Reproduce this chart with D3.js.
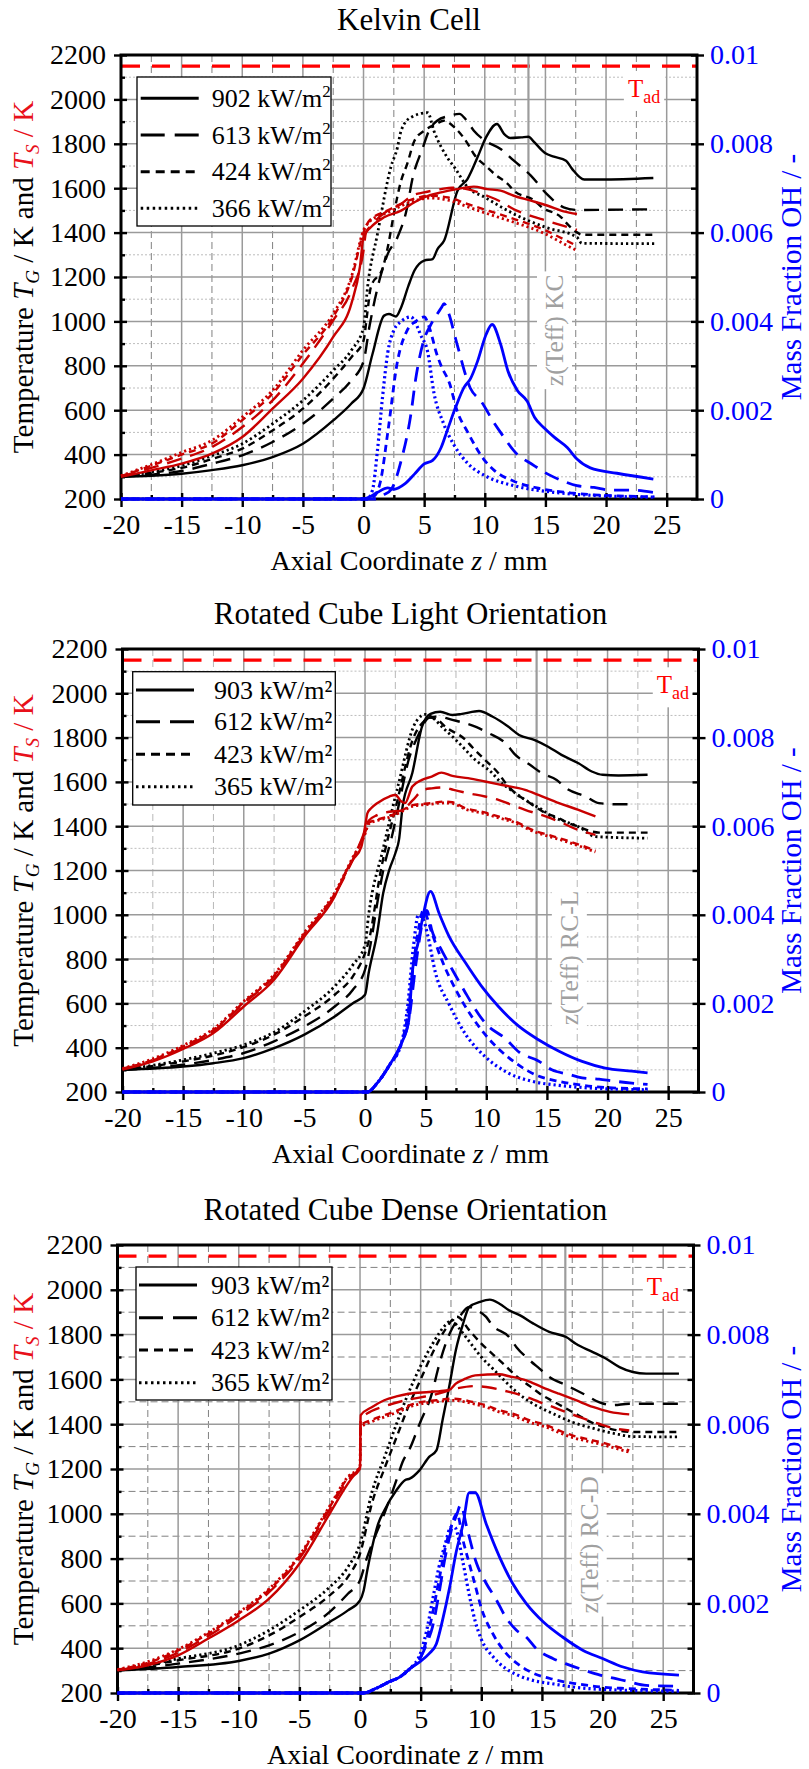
<!DOCTYPE html>
<html>
<head>
<meta charset="utf-8">
<script src="https://cdn.jsdelivr.net/npm/d3@7"></script>
<style>
  html, body { margin: 0; padding: 0; background: #fff; }
  svg { display: block; }
  svg text { font-family: "Liberation Serif", "Times New Roman", serif; }
</style>
</head>
<body>
<div id="chart"></div>
<script>
// ---- Data ----
// z in mm, T in K, OH as mass fraction

// Kelvin Cell
const kcFlux = ["902", "613", "424", "366"];
const kcTg902 = [[-20,300],[-17.5,305],[-15,314],[-12.5,330],[-10,352],[-7.5,389],[-5,449],[-2.5,554],[-1,630],[0,698],[0.74,853],[1.7,1026],[2.1,1033],[2.67,1022],[3.1,1063],[3.7,1160],[4.2,1229],[5,1274],[5.7,1281],[6.1,1326],[6.65,1364],[7.75,1589],[8.57,1641],[9.4,1739],[10.1,1829],[11,1889],[11.6,1844],[12.1,1826],[13,1829],[13.6,1832],[14.1,1806],[15,1757],[15.7,1742],[16.7,1724],[17.2,1687],[18.2,1639],[19.6,1639],[23.9,1646]];
const kcTg613 = [[-20,300],[-17.5,310],[-15,326],[-12.5,359],[-10,397],[-7.5,457],[-5,539],[-2.5,652],[-1,735],[0,820],[0.5,980],[1.3,1183],[2,1304],[2.8,1379],[3.6,1514],[4,1634],[4.9,1784],[5.4,1859],[6.1,1905],[7,1925],[7.9,1935],[8.5,1905],[9.1,1859],[10,1815],[11.3,1777],[12.4,1724],[13.8,1657],[15.1,1574],[16.5,1514],[17.6,1502],[24,1505]];
const kcTg424 = [[-20,300],[-17.5,318],[-15,340],[-12.5,380],[-10,427],[-7.5,509],[-5,607],[-2.5,742],[-1,839],[0,913],[0.3,1033],[0.6,1153],[1.6,1243],[2,1334],[2.5,1484],[3.1,1634],[3.6,1709],[4.2,1814],[5,1859],[6,1889],[6.6,1904],[7.5,1874],[8.6,1800],[9.1,1754],[10.2,1694],[10.8,1664],[11.9,1619],[12.4,1589],[14.1,1544],[14.7,1514],[16.3,1469],[16.8,1439],[17.6,1401],[18,1390],[24,1390]];
const kcTg366 = [[-20,300],[-17.5,322],[-15,350],[-12.5,395],[-10,449],[-7.5,539],[-5,644],[-2.5,779],[-1,870],[0,973],[0.33,1153],[1.15,1394],[2.25,1694],[2.8,1784],[3.1,1859],[3.9,1919],[5.3,1940],[5.8,1859],[6.9,1739],[7.5,1694],[8.6,1604],[10,1559],[12.4,1484],[15,1424],[17.6,1379],[18,1352],[24,1350]];
const kcTs902 = [[-20,300],[-17.5,329],[-15,359],[-12.5,404],[-10,479],[-7.5,607],[-5,742],[-2.5,930],[-1,1080],[-0.3,1245],[0,1380],[0.6,1424],[1.7,1469],[3.1,1499],[4.2,1537],[5,1559],[6.4,1581],[7.7,1596],[9.1,1607],[10.2,1596],[11.3,1589],[12.4,1566],[13.8,1544],[15.2,1521],[16.5,1496],[17.6,1484]];
const kcTs613 = [[-20,302],[-17.5,340],[-15,382],[-12.5,434],[-10,524],[-7.5,644],[-5,810],[-2.5,1005],[-1,1140],[0,1320],[0.2,1400],[0.6,1430],[2,1499],[3.1,1529],[4,1566],[5,1581],[6.4,1596],[7.3,1602],[8.3,1598],[10.2,1566],[11.3,1540],[12.4,1505],[13.8,1475],[15,1455],[16.5,1430],[17.6,1412]];
const kcTs424 = [[-20,303],[-17.5,350],[-15,400],[-12.5,450],[-10,555],[-7.5,675],[-5,850],[-2.5,1020],[-1,1190],[0,1400],[0.5,1455],[2,1500],[4,1550],[5.5,1566],[7,1558],[8.5,1530],[10.5,1495],[12.5,1460],[15,1410],[16.5,1370],[17.6,1340]];
const kcTs366 = [[-20,305],[-17.5,355],[-15,410],[-12.5,464],[-10,569],[-7.5,689],[-5,870],[-2.5,1035],[-1,1200],[0,1410],[0.5,1450],[2,1490],[4,1540],[5.5,1556],[7,1546],[8.5,1518],[10.5,1480],[12.5,1445],[15,1394],[16.5,1350],[17.6,1319]];
const kcOh902 = [[-20,0],[0,0],[0.5,0.00005],[1.15,0.00015],[2,0.00025],[2.5,0.00022],[3.4,0.00034],[4.2,0.00056],[5,0.00079],[5.7,0.00087],[6.4,0.00116],[6.9,0.00154],[7.6,0.00207],[8.3,0.00252],[8.8,0.0027],[9.4,0.0031],[10.1,0.0037],[10.6,0.00393],[11.3,0.00349],[11.9,0.00289],[12.7,0.00244],[13.5,0.0022],[14.1,0.00184],[14.9,0.0016],[15.7,0.0014],[16.8,0.00116],[17.6,0.0009],[18.7,0.0007],[20.9,0.00058],[23.9,0.00045]];
const kcOh613 = [[-20,0],[1,0],[1.7,0.0001],[2.3,0.00022],[3.1,0.00086],[3.9,0.0019],[4.3,0.0027],[5,0.0036],[5.5,0.0039],[6.4,0.0043],[6.65,0.0044],[7,0.0042],[7.7,0.0035],[8.8,0.0025],[9.7,0.0022],[10.8,0.0017],[11.3,0.0015],[12.7,0.001],[13.8,0.0008],[15.2,0.00056],[16.5,0.0004],[17.6,0.0003],[19,0.00026],[20.4,0.0002],[22,0.0002],[23.9,0.00015]];
const kcOh424 = [[-20,0],[0.4,0],[1,0.0001],[1.4,0.0004],[2,0.0015],[2.8,0.0031],[3.6,0.0038],[4.3,0.004],[5,0.0041],[5.5,0.0038],[6,0.0033],[6.4,0.003],[7.1,0.0026],[7.7,0.002],[8.6,0.0015],[9.9,0.0009],[10.8,0.00064],[12.4,0.0004],[14.3,0.00025],[17.3,0.00013],[21,0.00007],[24,0.00005]];
const kcOh366 = [[-20,0],[0.3,0],[0.74,0.0002],[1.15,0.0011],[1.57,0.0023],[2,0.0033],[2.5,0.0038],[3.1,0.004],[3.9,0.0041],[4.4,0.0039],[4.7,0.0037],[5.3,0.0033],[5.8,0.0024],[6.6,0.0017],[7.5,0.0012],[8.6,0.0008],[10.2,0.0005],[12.4,0.0003],[15.7,0.00015],[19,0.00008],[23.9,0.00004]];

// Rotated Cube Light Orientation
const rlFlux = ["903", "612", "423", "365"];
const rlTg903 = [[-20,300],[-15,315],[-12.5,330],[-10,353],[-7.5,398],[-5,459],[-2.5,541],[-1,601],[0,639],[0.3,737],[1,917],[1.5,1098],[2,1203],[2.5,1278],[2.8,1338],[3.1,1489],[3.9,1640],[4.7,1850],[5.4,1907],[6.2,1917],[7.2,1902],[8,1907],[9.4,1920],[10.5,1895],[11.8,1850],[12.7,1812],[14,1789],[15.1,1759],[16.2,1722],[17.6,1684],[18.7,1647],[19.6,1632],[20.9,1629],[23.3,1632]];
const rlTg612 = [[-20,300],[-15,323],[-12.5,345],[-10,376],[-7.5,429],[-5,496],[-2.5,586],[-1,662],[0,752],[0.5,880],[1,1050],[1.5,1200],[2.2,1350],[2.8,1500],[3.6,1700],[4.3,1800],[5.3,1890],[6,1895],[7.2,1880],[9.2,1847],[10.2,1820],[11.6,1774],[12.4,1722],[13.6,1677],[14.6,1639],[15.8,1609],[16.6,1571],[18.2,1534],[19.3,1504],[20.8,1499],[22,1499]];
const rlTg423 = [[-20,300],[-15,338],[-12.5,365],[-10,403],[-7.5,459],[-5,541],[-2.5,639],[-1,722],[0,827],[0.3,880],[1.3,1200],[2.6,1500],[4,1800],[5,1880],[5.3,1890],[6,1880],[6.6,1850],[8.3,1789],[8.8,1759],[9.9,1699],[11,1639],[11.6,1594],[12.4,1549],[13.2,1519],[14,1489],[14.9,1459],[16,1436],[16.5,1421],[17.6,1398],[18.7,1376],[19.3,1371],[23.3,1371]];
const rlTg365 = [[-20,300],[-15,345],[-12.5,375],[-10,413],[-7.5,470],[-5,564],[-2.5,677],[-1,774],[0,865],[0.3,1000],[1.5,1300],[2.8,1600],[4,1850],[4.7,1900],[5,1905],[6.6,1835],[8.3,1744],[8.8,1714],[10.5,1639],[11,1609],[12.4,1549],[13.2,1519],[14.6,1474],[15.4,1444],[16.5,1421],[17.6,1398],[19,1353],[23.3,1346]];
const rlTs903 = [[-20,301],[-17.5,338],[-15,394],[-12.5,466],[-10,586],[-7.5,707],[-5,902],[-2.5,1083],[-1.5,1203],[-1,1248],[-0.3,1308],[0,1398],[0.2,1459],[0.5,1481],[1,1504],[2,1534],[2.5,1541],[3,1511],[3.3,1504],[3.9,1579],[4.7,1609],[5.5,1624],[6.3,1642],[7.2,1627],[8.5,1617],[9.9,1602],[11.3,1586],[13.2,1564],[14.3,1541],[16,1504],[17.6,1474],[19,1444]];
const rlTs612 = [[-20,303],[-17.5,342],[-15,400],[-12.5,475],[-10,600],[-7.5,720],[-5,910],[-2.5,1090],[-1,1250],[0,1380],[0.3,1425],[1,1450],[2,1465],[3,1470],[3.9,1515],[4.8,1564],[5.5,1571],[6.5,1575],[7.3,1564],[8.5,1549],[9.9,1534],[11,1519],[12.1,1496],[13.2,1474],[14.9,1444],[16,1421],[17.6,1383],[19,1361]];
const rlTs423 = [[-20,305],[-17.5,345],[-15,405],[-12.5,480],[-10,605],[-7.5,725],[-5,915],[-2.5,1095],[-1,1255],[0,1370],[0.3,1415],[1,1430],[2,1445],[3,1470],[3.9,1495],[5.5,1504],[6.5,1511],[7.2,1508],[8.3,1481],[9.6,1466],[11,1444],[12.4,1421],[13.8,1383],[15.1,1361],[16.5,1338],[19,1290]];
const rlTs365 = [[-20,306],[-17.5,350],[-15,410],[-12.5,485],[-10,610],[-7.5,730],[-5,920],[-2.5,1100],[-1,1260],[0,1365],[0.3,1410],[1,1425],[2,1440],[3,1465],[3.9,1490],[5.5,1500],[6.5,1505],[7.2,1503],[8.3,1476],[9.6,1460],[11,1438],[12.4,1415],[13.8,1378],[15.1,1355],[16.5,1332],[19,1284]];
const rlOh903 = [[-20,0],[0.2,0],[1,0.0002],[2,0.0006],[3,0.0011],[3.6,0.0016],[3.9,0.0027],[4.4,0.0034],[4.8,0.004],[5.4,0.00453],[6.1,0.00404],[6.9,0.00353],[8.3,0.00291],[9.6,0.00239],[11,0.00193],[12.7,0.00148],[14.3,0.00118],[16,0.00092],[17.9,0.00069],[19.8,0.00054],[22,0.00047],[23.3,0.00043]];
const rlOh612 = [[-20,0],[0.2,0],[1,0.0002],[2,0.0006],[3,0.0011],[3.6,0.0016],[4.2,0.0029],[4.8,0.0039],[5.1,0.0041],[5.5,0.00366],[6.3,0.00321],[7.2,0.00276],[8.3,0.00223],[8.8,0.002],[9.9,0.00156],[11.6,0.0012],[12.7,0.0009],[14.3,0.0007],[15.4,0.0005],[16.8,0.0004],[17.9,0.00032],[19.3,0.00029],[20.4,0.00025],[22,0.0002],[23.3,0.00017]];
const rlOh423 = [[-20,0],[0.2,0],[1,0.0002],[2,0.0006],[3,0.0011],[3.5,0.0017],[4,0.0029],[4.5,0.0038],[4.8,0.0041],[5.5,0.0036],[6.3,0.003],[7.7,0.0022],[9.9,0.0013],[12.4,0.00066],[14.3,0.00036],[16,0.00024],[18,0.00015],[20,0.0001],[23.3,0.00007]];
const rlOh365 = [[-20,0],[0.2,0],[1,0.0002],[2,0.0006],[3,0.0011],[3.5,0.0019],[4,0.0033],[4.4,0.004],[4.8,0.0039],[5.2,0.0035],[5.8,0.0027],[6.9,0.002],[8.3,0.0013],[9.9,0.0008],[11.8,0.00043],[13.8,0.00024],[16,0.00015],[18,0.0001],[20,0.00007],[23.3,0.00005]];

// Rotated Cube Dense Orientation
const rdFlux = ["903", "612", "423", "365"];
const rdTg903 = [[-20,301],[-15,316],[-10,343],[-7.5,376],[-5,435],[-2.5,517],[-1,569],[0,614],[0.3,658],[0.6,748],[1,852],[1.5,956],[2,1015],[3,1105],[3.7,1150],[4.1,1157],[4.9,1194],[5.7,1254],[6.3,1283],[6.8,1417],[7.4,1581],[7.9,1730],[8.5,1849],[9,1923],[9.9,1946],[10.7,1956],[11.5,1938],[12.3,1908],[13.2,1886],[14.3,1849],[15.6,1812],[17,1789],[17.8,1759],[19.2,1722],[20.3,1692],[21.4,1655],[22.5,1633],[23.6,1626],[26.3,1626]];
const rdTg612 = [[-20,300],[-15,331],[-10,376],[-7.5,413],[-5,472],[-2.5,562],[-1,643],[0,703],[0.5,792],[1,867],[2,1000],[3,1150],[3.5,1230],[4.1,1290],[4.9,1400],[6,1551],[6.4,1640],[7.2,1780],[8.2,1879],[9,1923],[9.5,1912],[10.4,1879],[10.9,1842],[12.3,1789],[12.9,1744],[14,1685],[14.8,1648],[15.6,1611],[17,1574],[18.4,1536],[19.7,1499],[20.8,1485],[22.2,1491],[26.3,1491]];
const rdTg423 = [[-20,300],[-15,346],[-10,398],[-7.5,457],[-5,539],[-2.5,636],[-1,718],[0,822],[1,1050],[2,1200],[3,1340],[4,1480],[5,1600],[6,1720],[7,1820],[8,1880],[9,1820],[10,1760],[11,1710],[12,1660],[13,1610],[14,1570],[15,1530],[16,1500],[17,1470],[18,1440],[19,1410],[20,1390],[21,1375],[22.5,1365],[26.3,1365]];
const rdTg365 = [[-20,300],[-15,353],[-10,413],[-7.5,480],[-5,569],[-2.5,673],[-1,762],[0,867],[1,1100],[2,1250],[3,1400],[4,1540],[5,1660],[6,1760],[7,1840],[7.6,1865],[8,1840],[9,1770],[10,1700],[11,1645],[12,1590],[13,1540],[14,1500],[15,1470],[16,1445],[17,1420],[18,1400],[19,1385],[20,1370],[21,1358],[22.5,1345],[26.3,1343]];
const rdTs903 = [[-20,301],[-17.5,324],[-15,368],[-12.5,443],[-10,524],[-7.5,621],[-5,777],[-2.5,1001],[-1,1135],[-0.2,1194],[0,1209],[0.05,1440],[1,1477],[2,1507],[3,1524],[4,1536],[5.7,1544],[7.1,1551],[7.4,1554],[7.9,1581],[8.7,1603],[9.5,1618],[11.5,1623],[12.3,1614],[13.7,1596],[15,1566],[16.4,1536],[17.8,1507],[19.2,1477],[20.6,1455],[22.2,1444]];
const rdTs612 = [[-20,302],[-17.5,330],[-15,380],[-12.5,455],[-10,545],[-7.5,650],[-5,800],[-2.5,1020],[-1,1150],[0,1200],[0.05,1420],[1,1460],[2,1480],[4,1510],[6,1530],[8,1560],[9.5,1570],[10.4,1566],[12.3,1544],[13.3,1529],[14.8,1499],[15.9,1477],[17,1454],[18.1,1432],[19.7,1402],[21.1,1380],[22.2,1372]];
const rdTs423 = [[-20,304],[-17.5,335],[-15,390],[-12.5,465],[-10,555],[-7.5,660],[-5,810],[-2.5,1030],[-1,1160],[0,1205],[0.05,1395],[1,1420],[2,1440],[3,1460],[4.4,1491],[6.3,1507],[7.7,1514],[9.3,1499],[10.4,1484],[11.5,1462],[12.6,1447],[14,1417],[15.4,1395],[16.4,1372],[17.5,1350],[19.2,1328],[20.3,1313],[22.2,1283]];
const rdTs365 = [[-20,305],[-17.5,340],[-15,395],[-12.5,470],[-10,560],[-7.5,665],[-5,815],[-2.5,1035],[-1,1165],[0,1210],[0.05,1385],[1,1412],[2,1432],[3,1452],[4.4,1483],[6.3,1500],[7.7,1506],[9.3,1492],[10.4,1476],[11.5,1454],[12.6,1438],[14,1408],[15.4,1386],[16.4,1363],[17.5,1341],[19.2,1319],[20.3,1304],[22.2,1275]];
const rdOh903 = [[-20,0],[0.3,0],[1.3,0.0001],[2.4,0.00025],[3.3,0.00036],[4.1,0.00054],[4.9,0.00069],[5.7,0.00088],[6.3,0.0011],[6.8,0.00162],[7.4,0.00237],[7.9,0.00311],[8.5,0.00378],[9,0.00447],[9.5,0.00447],[10.4,0.00378],[11.5,0.00304],[12.6,0.00244],[13.7,0.002],[15.1,0.00159],[16.7,0.00125],[18.4,0.00095],[20,0.00077],[21.7,0.00058],[23.3,0.00047],[26.3,0.0004]];
const rdOh612 = [[-20,0],[0.3,0],[1.3,0.0001],[2.4,0.00025],[3.3,0.00036],[4.1,0.00054],[5,0.0008],[5.5,0.0011],[6,0.0015],[6.5,0.0022],[7,0.003],[7.5,0.0036],[8,0.004],[8.3,0.0042],[8.8,0.0037],[9.6,0.0029],[10.4,0.00245],[11.2,0.0021],[12,0.0017],[12.9,0.0014],[13.7,0.00125],[14.5,0.001],[15.9,0.00077],[17,0.00065],[18.6,0.0005],[19.8,0.0004],[21.1,0.00032],[22.2,0.00025],[23.6,0.00017],[26.3,0.00015]];
const rdOh423 = [[-20,0],[0.3,0],[1.3,0.0001],[2.4,0.00025],[3.3,0.00036],[4.1,0.00054],[5,0.0008],[5.5,0.0012],[6,0.0018],[6.5,0.0025],[7,0.0032],[7.5,0.0037],[8,0.004],[8.5,0.0034],[9,0.0029],[9.5,0.0024],[10,0.0019],[11,0.0013],[12,0.0009],[13,0.00065],[14,0.00048],[16,0.0003],[18,0.0002],[20,0.00013],[22,0.0001],[26.3,0.00006]];
const rdOh365 = [[-20,0],[0.3,0],[1.3,0.0001],[2.4,0.00025],[3.3,0.00036],[4.1,0.00054],[5,0.0009],[5.5,0.0014],[6,0.0021],[6.5,0.0028],[7,0.0033],[7.5,0.0037],[7.8,0.0037],[8.5,0.0029],[9,0.0022],[9.5,0.0016],[10,0.0012],[11,0.0008],[12,0.00055],[13,0.0004],[14,0.0003],[16,0.0002],[18,0.00012],[20,0.00008],[22,0.00006],[26.3,0.00004]];

// reference values
const tAdiabatic = 2150;
const zTeff = [13.6, 14.15, 16.93];
const teffLabels = ["z(Teff) KC", "z(Teff) RC-L", "z(Teff) RC-D"];
const titles = ["Kelvin Cell", "Rotated Cube Light Orientation", "Rotated Cube Dense Orientation"];

// axes
const zTicks = d3.range(-20, 26, 5);
const zMinor = d3.range(-17.5, 25, 5);
const tTicks = d3.range(200, 2201, 200);
const tMinor = d3.range(300, 2101, 200);
const ohTicks = [0, 0.002, 0.004, 0.006, 0.008, 0.01];
const ohMinor = [0.001, 0.003, 0.005, 0.007, 0.009];

// ---- Layout / style ----
const W = 809, H = 1769;
const FONT = '"Liberation Serif", "Times New Roman", serif';
const RED = "#c80000", BLUE = "#0000ff", TAD_RED = "#ff0000", GRAY = "#9c9c9c";
const dashes = [null, "15,9", "7,5", "2.2,3"];
const legendDashes = [null, "24,10", "9,6", "2.5,3.5"];

const panels = [
  {
    title: titles[0], flux: kcFlux, sup: true,
    left: 121, right: 697, top: 55, bottom: 499,
    tg: [kcTg902, kcTg613, kcTg424, kcTg366],
    ts: [kcTs902, kcTs613, kcTs424, kcTs366],
    oh: [kcOh902, kcOh613, kcOh424, kcOh366],
    legend: { x: 137, y: 77, w: 194, h: 149, rows: [98.3, 135, 171.7, 208.3], lx: 140.7, tx: 211.7 },
    teff: zTeff[0], teffLabel: teffLabels[0], teffLabelAt: [16.45, 960],
    tadAt: [21.8, 2011],
    minorV: { color: "#808080", dash: "7,4" },
    minorH: { color: "#bdbdbd", dash: "2,2" },
  },
  {
    title: titles[1], flux: rlFlux, sup: false,
    left: 122.5, right: 698.5, top: 649, bottom: 1092,
    tg: [rlTg903, rlTg612, rlTg423, rlTg365],
    ts: [rlTs903, rlTs612, rlTs423, rlTs365],
    oh: [rlOh903, rlOh612, rlOh423, rlOh365],
    legend: { x: 132.7, y: 671.7, w: 202.6, h: 133.3, rows: [690, 721.7, 754.3, 786.7], lx: 136, tx: 214 },
    teff: zTeff[1], teffLabel: teffLabels[1], teffLabelAt: [17.55, 805],
    tadAt: [24.06, 2000],
    minorV: { color: "#b8b8b8", dash: "7,4" },
    minorH: { color: "#bdbdbd", dash: "2,2" },
  },
  {
    title: titles[2], flux: rdFlux, sup: false,
    left: 117.5, right: 693.5, top: 1245, bottom: 1693,
    tg: [rdTg903, rdTg612, rdTg423, rdTg365],
    ts: [rdTs903, rdTs612, rdTs423, rdTs365],
    oh: [rdOh903, rdOh612, rdOh423, rdOh365],
    legend: { x: 136, y: 1267, w: 196, h: 133, rows: [1285, 1317.7, 1350, 1382.7], lx: 139, tx: 211 },
    teff: zTeff[2], teffLabel: teffLabels[2], teffLabelAt: [19.6, 861],
    tadAt: [23.65, 1977],
    minorV: { color: "#808080", dash: "7,4" },
    minorH: { color: "#808080", dash: "7,4" },
  },
];

const svg = d3.select("#chart").append("svg")
  .attr("width", W).attr("height", H)
  .attr("viewBox", [0, 0, W, H])
  .attr("font-family", FONT);

svg.append("rect").attr("width", W).attr("height", H).attr("fill", "#fff");

panels.forEach(drawPanel);

function drawPanel(p) {
  const x = d3.scaleLinear().domain([-20, 27.5]).range([p.left, p.right]);
  const y = d3.scaleLinear().domain([200, 2200]).range([p.bottom, p.top]);
  const yOH = d3.scaleLinear().domain([0, 0.01]).range([p.bottom, p.top]);
  const g = svg.append("g");
  const cx = (p.left + p.right) / 2;
  const cy = (p.top + p.bottom) / 2;

  // Grid - minor
  g.append("g").selectAll("line").data(zMinor).join("line")
    .attr("x1", d => x(d)).attr("x2", d => x(d))
    .attr("y1", p.top).attr("y2", p.bottom)
    .attr("stroke", p.minorV.color).attr("stroke-width", 1)
    .attr("stroke-dasharray", p.minorV.dash);
  g.append("g").selectAll("line").data(tMinor).join("line")
    .attr("x1", p.left).attr("x2", p.right)
    .attr("y1", d => y(d)).attr("y2", d => y(d))
    .attr("stroke", p.minorH.color).attr("stroke-width", 1)
    .attr("stroke-dasharray", p.minorH.dash);

  // Grid - major
  g.append("g").selectAll("line").data(zTicks.filter(d => d > -20)).join("line")
    .attr("x1", d => x(d)).attr("x2", d => x(d))
    .attr("y1", p.top).attr("y2", p.bottom)
    .attr("stroke", "#9a9a9a").attr("stroke-width", 1.5);
  g.append("g").selectAll("line").data(tTicks.filter(d => d > 200 && d < 2200)).join("line")
    .attr("x1", p.left).attr("x2", p.right)
    .attr("y1", d => y(d)).attr("y2", d => y(d))
    .attr("stroke", "#9a9a9a").attr("stroke-width", 1.5);

  // Adiabatic flame temperature
  g.append("line")
    .attr("x1", p.left + 1).attr("x2", p.right)
    .attr("y1", y(tAdiabatic)).attr("y2", y(tAdiabatic))
    .attr("stroke", TAD_RED).attr("stroke-width", 3.2)
    .attr("stroke-dasharray", "18,12");

  const tad = g.append("g");
  const tadBg = tad.append("rect").attr("fill", "#fff");
  const tadText = tad.append("text")
    .attr("x", x(p.tadAt[0])).attr("y", y(p.tadAt[1]))
    .attr("font-family", FONT)
    .attr("fill", TAD_RED).attr("font-size", 25);
  tadText.append("tspan").text("T");
  tadText.append("tspan").attr("dy", 6).attr("font-size", 18).text("ad");
  fitBackground(tadBg, tadText, 4);

  // z(Teff) line and label
  g.append("line")
    .attr("x1", x(p.teff)).attr("x2", x(p.teff))
    .attr("y1", p.top).attr("y2", p.bottom)
    .attr("stroke", GRAY).attr("stroke-width", 2.2);

  const tl = g.append("g")
    .attr("transform", `translate(${x(p.teffLabelAt[0])},${y(p.teffLabelAt[1])}) rotate(-90)`);
  const tlBg = tl.append("rect").attr("fill", "#fff");
  const tlText = tl.append("text")
    .attr("text-anchor", "middle")
    .attr("font-family", FONT)
    .attr("fill", "#a0a0a0")
    .attr("font-size", 25.5)
    .text(p.teffLabel);
  fitBackground(tlBg, tlText, 3);

  // Axes
  const axisStyle = (sel, color) => {
    sel.attr("font-family", FONT).attr("font-size", 28);
    sel.select(".domain").remove();
    sel.selectAll(".tick line").attr("stroke", "#000").attr("stroke-width", 2.4);
    sel.selectAll(".tick text")
      .attr("fill", color)
      .attr("font-family", FONT)
      .attr("font-size", 28);
  };

  // left
  g.append("g").attr("transform", `translate(${p.left},0)`)
    .call(d3.axisLeft(y).tickValues(tTicks).tickSize(7).tickSizeOuter(0).tickPadding(8).tickFormat(d => String(d)))
    .call(sel => axisStyle(sel, "#000"));
  g.append("g").attr("transform", `translate(${p.left},0)`)
    .call(d3.axisLeft(y).tickValues(tTicks).tickSize(-6).tickSizeOuter(0).tickFormat(""))
    .call(sel => axisStyle(sel, "#000"));
  g.append("g").attr("transform", `translate(${p.left},0)`)
    .call(d3.axisLeft(y).tickValues(tMinor).tickSize(-4).tickSizeOuter(0).tickFormat(""))
    .call(sel => axisStyle(sel, "#000"));

  // right
  g.append("g").attr("transform", `translate(${p.right},0)`)
    .call(d3.axisRight(yOH).tickValues(ohTicks).tickSize(7).tickSizeOuter(0).tickPadding(6)
      .tickFormat(d => d === 0 ? "0" : String(+d.toFixed(3))))
    .call(sel => axisStyle(sel, BLUE));
  g.append("g").attr("transform", `translate(${p.right},0)`)
    .call(d3.axisRight(yOH).tickValues(ohTicks.concat(ohMinor)).tickSize(-6).tickSizeOuter(0).tickFormat(""))
    .call(sel => axisStyle(sel, BLUE));

  // bottom
  g.append("g").attr("transform", `translate(0,${p.bottom})`)
    .call(d3.axisBottom(x).tickValues(zTicks).tickSize(8).tickSizeOuter(0).tickPadding(7).tickFormat(d => String(d)))
    .call(sel => axisStyle(sel, "#000"));
  g.append("g").attr("transform", `translate(0,${p.bottom})`)
    .call(d3.axisBottom(x).tickValues(zTicks).tickSize(-6).tickSizeOuter(0).tickFormat(""))
    .call(sel => axisStyle(sel, "#000"));
  g.append("g").attr("transform", `translate(0,${p.bottom})`)
    .call(d3.axisBottom(x).tickValues(zMinor).tickSize(-4).tickSizeOuter(0).tickFormat(""))
    .call(sel => axisStyle(sel, "#000"));

  // frame
  g.append("rect")
    .attr("x", p.left).attr("y", p.top)
    .attr("width", p.right - p.left).attr("height", p.bottom - p.top)
    .attr("fill", "none").attr("stroke", "#000").attr("stroke-width", 3);

  // Curves
  const lineT = d3.line().x(d => x(d[0])).y(d => y(d[1])).curve(d3.curveMonotoneX);
  const lineOH = d3.line().x(d => x(d[0])).y(d => yOH(d[1])).curve(d3.curveMonotoneX);

  const drawSet = (series, gen, color, width) => {
    series.forEach((data, i) => {
      g.append("path")
        .datum(data)
        .attr("fill", "none")
        .attr("stroke", color)
        .attr("stroke-width", i === 3 ? width + 0.4 : width)
        .attr("stroke-dasharray", dashes[i])
        .attr("stroke-linejoin", "round")
        .attr("d", gen);
    });
  };
  drawSet(p.tg, lineT, "#000", 2.4);
  drawSet(p.ts, lineT, RED, 2.4);
  drawSet(p.oh, lineOH, BLUE, 2.8);

  // Legend
  const L = p.legend;
  const lg = g.append("g");
  lg.append("rect")
    .attr("x", L.x).attr("y", L.y).attr("width", L.w).attr("height", L.h)
    .attr("fill", "#fff").attr("stroke", "#000").attr("stroke-width", 1.3);
  p.flux.forEach((f, i) => {
    lg.append("line")
      .attr("x1", L.lx).attr("x2", L.lx + 58)
      .attr("y1", L.rows[i]).attr("y2", L.rows[i])
      .attr("stroke", "#000").attr("stroke-width", 3)
      .attr("stroke-dasharray", legendDashes[i]);
    const t = lg.append("text")
      .attr("x", L.tx).attr("y", L.rows[i] + 8.5)
      .attr("font-family", FONT)
      .attr("font-size", 26);
    if (p.sup) {
      t.append("tspan").text(`${f} kW/m`);
      t.append("tspan").attr("dy", -10).attr("font-size", 17).text("2");
    } else {
      t.text(`${f} kW/m\u00b2`);
    }
  });

  // Titles
  svg.append("text")
    .attr("x", cx).attr("y", p.top - 25)
    .attr("text-anchor", "middle")
    .attr("font-family", FONT)
    .attr("font-size", 31)
    .text(p.title);

  const xt = svg.append("text")
    .attr("x", cx).attr("y", p.bottom + 71)
    .attr("text-anchor", "middle")
    .attr("font-family", FONT)
    .attr("font-size", 28);
  xt.append("tspan").text("Axial Coordinate ");
  xt.append("tspan").attr("font-style", "italic").text("z");
  xt.append("tspan").text(" / mm");

  const yt = svg.append("text")
    .attr("transform", `translate(33,${cy}) rotate(-90)`)
    .attr("text-anchor", "middle")
    .attr("font-family", FONT)
    .attr("font-size", 29);
  yt.append("tspan").text("Temperature ");
  yt.append("tspan").attr("font-style", "italic").text("T");
  yt.append("tspan").attr("font-style", "italic").attr("font-size", 19).attr("dy", 6).text("G");
  yt.append("tspan").attr("dy", -6).text(" / K and ");
  yt.append("tspan").attr("fill", "#e8101a").attr("font-style", "italic").text("T");
  yt.append("tspan").attr("fill", "#e8101a").attr("font-style", "italic").attr("font-size", 19).attr("dy", 6).text("S");
  yt.append("tspan").attr("fill", "#e8101a").attr("dy", -6).text(" / K");

  svg.append("text")
    .attr("transform", `translate(801,${cy}) rotate(-90)`)
    .attr("text-anchor", "middle")
    .attr("font-family", FONT)
    .attr("fill", BLUE)
    .attr("font-size", 29)
    .text("Mass Fraction OH / -");
}

function fitBackground(rect, text, pad) {
  const b = text.node().getBBox();
  rect.attr("x", b.x - pad).attr("y", b.y - pad)
    .attr("width", b.width + 2 * pad).attr("height", b.height + 2 * pad);
}
</script>
</body>
</html>
